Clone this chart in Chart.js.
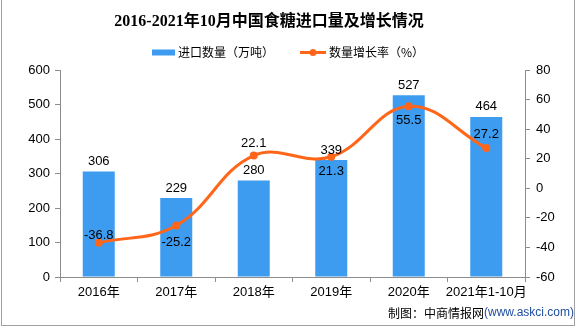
<!DOCTYPE html>
<html><head><meta charset="utf-8">
<script src="https://cdn.jsdelivr.net/npm/chart.js@4.4.1/dist/chart.umd.min.js"></script>
<style>html,body{margin:0;padding:0;background:#fff}canvas{display:block}</style>
</head><body>
<canvas id="c" width="576" height="327"></canvas>
<script>
const categories = ['2016年','2017年','2018年','2019年','2020年','2021年1-10月'];
const importVolume = [306, 229, 280, 339, 527, 464];
const growthRate = [-36.8, -25.2, 22.1, 21.3, 55.5, 27.2];
const leftAxisMin = 0, leftAxisMax = 600, leftAxisStep = 100;
const rightAxisMin = -60, rightAxisMax = 80, rightAxisStep = 20;
const seriesNames = ['进口数量（万吨）', '数量增长率（%）'];
const titleText = '2016-2021年10月中国食糖进口量及增长情况';
const sourceText = '制图：中商情报网';
const sourceUrl = '(www.askci.com)';

const BLUE = '#3d9cf0', ORANGE = '#ff661a';
const FONT = '"Liberation Sans", "Noto Sans CJK SC", sans-serif';
const CJK = '"Noto Sans CJK SC", sans-serif';

const decor = {
  id: 'decor',
  beforeDraw(chart) {
    const ctx = chart.ctx;
    ctx.save();
    ctx.fillStyle = '#fff';
    ctx.fillRect(0, 0, chart.width, chart.height);
    ctx.strokeStyle = '#a0a0a0';
    ctx.lineWidth = 1;
    ctx.strokeRect(1.5, -1, 573, 326.5);
    // title
    ctx.fillStyle = '#000';
    ctx.font = 'bold 16px "Liberation Serif", "Noto Sans CJK SC", serif';
    ctx.textAlign = 'center';
    ctx.textBaseline = 'middle';
    ctx.fillText(titleText, 269, 22);
    // legend
    ctx.font = '12px ' + CJK;
    ctx.textAlign = 'left';
    ctx.fillStyle = BLUE;
    ctx.fillRect(152, 49.5, 23, 6);
    ctx.fillStyle = '#000';
    ctx.fillText(chart.data.datasets[1].label, 178, 52.5);
    ctx.strokeStyle = ORANGE; ctx.lineWidth = 3;
    ctx.beginPath(); ctx.moveTo(300, 52.5); ctx.lineTo(326, 52.5); ctx.stroke();
    ctx.fillStyle = ORANGE;
    ctx.beginPath(); ctx.arc(313, 52.5, 3.5, 0, Math.PI * 2); ctx.fill();
    ctx.fillStyle = '#000';
    ctx.fillText(chart.data.datasets[0].label, 329, 52.5);
    // source
    ctx.font = '12px ' + CJK;
    ctx.fillText(sourceText, 388, 313);
    const w = ctx.measureText(sourceText).width;
    ctx.font = '12px "Liberation Sans", sans-serif';
    ctx.fillStyle = '#1f4fa0';
    ctx.fillText(sourceUrl, 388 + w, 313);
    ctx.restore();
  },
  afterDatasetsDraw(chart) {
    const ctx = chart.ctx;
    ctx.save();
    ctx.font = '13px ' + FONT;
    ctx.fillStyle = '#000';
    ctx.textAlign = 'center';
    ctx.textBaseline = 'middle';
    const barMeta = chart.getDatasetMeta(1);
    barMeta.data.forEach((el, i) => {
      ctx.fillText(String(chart.data.datasets[1].data[i]), el.x, el.y - 10);
    });
    const lineOffsets = [-7, 17, -12, 15, 14, -14];
    const lineMeta = chart.getDatasetMeta(0);
    lineMeta.data.forEach((el, i) => {
      ctx.fillText(chart.data.datasets[0].data[i].toFixed(1), el.x, el.y + lineOffsets[i]);
    });
    ctx.restore();
  }
};

new Chart(document.getElementById('c'), {
  data: {
    labels: categories,
    datasets: [
      {
        type: 'line', label: seriesNames[1], data: growthRate, yAxisID: 'y1', order: 0,
        borderColor: ORANGE, backgroundColor: ORANGE, borderWidth: 3,
        pointRadius: 4, pointHoverRadius: 4, pointBackgroundColor: ORANGE, pointBorderWidth: 0,
        tension: 0.4, cubicInterpolationMode: 'default'
      },
      {
        type: 'bar', label: seriesNames[0], data: importVolume, yAxisID: 'y', order: 1,
        backgroundColor: BLUE, barPercentage: 0.413, categoryPercentage: 1
      }
    ]
  },
  options: {
    responsive: false, animation: false, devicePixelRatio: 1,
    layout: { padding: { top: 70, left: 0, right: 0, bottom: 0 } },
    plugins: { legend: { display: false }, title: { display: false }, tooltip: { enabled: false } },
    scales: {
      x: {
        offset: true,
        grid: { offset: true, drawOnChartArea: false, tickLength: 5, color: '#8c8c8c' },
        border: { color: '#8c8c8c' },
        ticks: { color: '#000', font: { size: 13, family: FONT }, padding: 3, maxRotation: 0, autoSkip: false },
        afterFit(s) { s.height = 50; }
      },
      y: {
        position: 'left', min: leftAxisMin, max: leftAxisMax,
        grid: { drawOnChartArea: false, tickLength: 5, color: '#8c8c8c' },
        border: { color: '#8c8c8c' },
        ticks: { stepSize: leftAxisStep, color: '#000', font: { size: 13, family: FONT }, padding: 5 },
        afterFit(s) { s.width = 60; }
      },
      y1: {
        position: 'right', min: rightAxisMin, max: rightAxisMax,
        grid: { drawOnChartArea: false, tickLength: 5, color: '#8c8c8c' },
        border: { color: '#8c8c8c' },
        ticks: { stepSize: rightAxisStep, color: '#000', font: { size: 13, family: FONT }, padding: 6 },
        afterFit(s) { s.width = 51; }
      }
    }
  },
  plugins: [decor]
});
</script>
</body></html>
